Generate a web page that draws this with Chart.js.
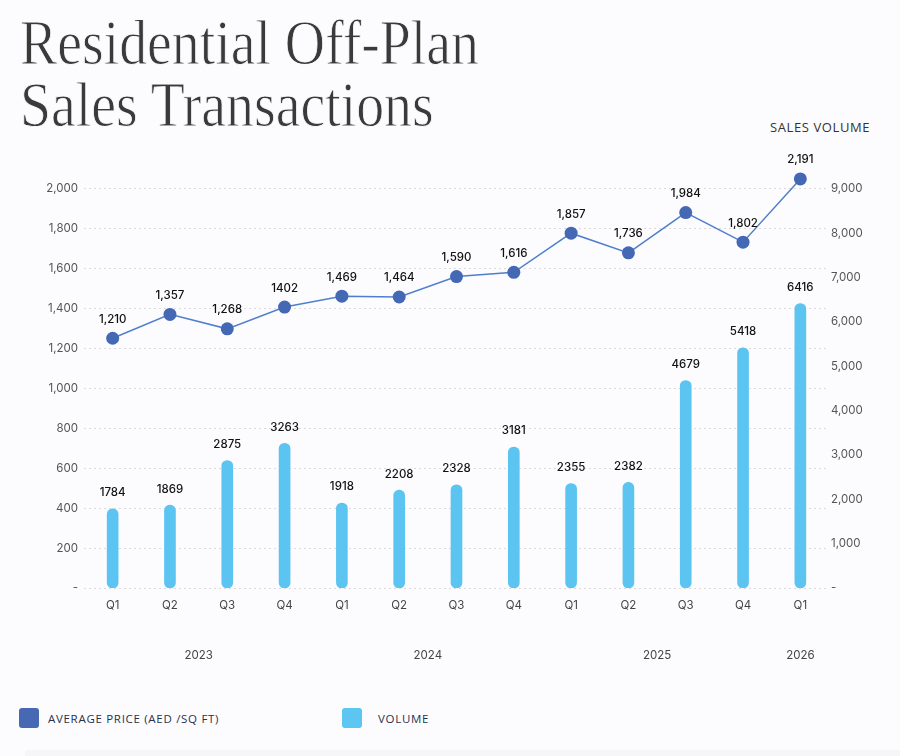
<!DOCTYPE html>
<html lang="en">
<head>
  <meta charset="UTF-8" />
  <title>Residential Off-Plan Sales Transactions</title>
  <script src="https://cdn.jsdelivr.net/npm/chart.js"></script>
  <style>
    html, body { margin: 0; padding: 0; }
    body {
      width: 900px; height: 756px; position: relative; overflow: hidden;
      background: #fcfcfe; font-family: 'Open Sans', sans-serif;
    }
    .titulo {
      position: absolute; left: 20px; top: 12px;
      font-family: 'Liberation Serif', serif; font-size: 64px; line-height: 62px;
      color: #3a3a3a; white-space: nowrap; transform-origin: left top;
      -webkit-text-stroke: 0.9px #fcfcfe;
    }
    .titulo span { display: inline-block; }
    .eixo-dir {
      position: absolute; left: 770px; top: 119px;
      font-size: 13px; line-height: 16px; letter-spacing: 0.6px; color: #333;
    }
    #grafico { position: absolute; left: 0; top: 150px; }
    .legenda { position: absolute; top: 708px; height: 20px; display: flex; align-items: center; }
    .legenda i { width: 20px; height: 20px; border-radius: 3px; display: block; }
    .legenda span {
      font-size: 11.5px; letter-spacing: 0.7px; color: #27314f; font-weight: 500;
    }
    .rodape { position: absolute; left: 25px; right: 0; top: 750px; bottom: 0; background: #f6f6f9; }
  </style>
</head>
<body>
  <div class="titulo" id="titulo"><span id="l1">Residential Off-Plan</span><br><span id="l2">Sales Transactions</span></div>
  <div class="eixo-dir">SALES VOLUME</div>

  <canvas id="grafico" width="900" height="518"></canvas>

  <div class="legenda" style="left:19px"><i style="background:#4769b3"></i><span style="margin-left:9px">AVERAGE PRICE (AED /SQ FT)</span></div>
  <div class="legenda" style="left:342px"><i style="background:#5cc5f1"></i><span style="margin-left:16px">VOLUME</span></div>
  <div class="rodape"></div>

  <script>
    // dados
    const quarters = ['Q1', 'Q2', 'Q3', 'Q4', 'Q1', 'Q2', 'Q3', 'Q4', 'Q1', 'Q2', 'Q3', 'Q4', 'Q1'];
    const years = ['2023', '2023', '2023', '2023', '2024', '2024', '2024', '2024', '2025', '2025', '2025', '2025', '2026'];
    const avgPrice = [1210, 1357, 1268, 1402, 1469, 1464, 1590, 1616, 1857, 1736, 1984, 1802, 2191];
    const avgPriceLabels = ['1,210', '1,357', '1,268', '1402', '1,469', '1,464', '1,590', '1,616', '1,857', '1,736', '1,984', '1,802', '2,191'];
    const volume = [1784, 1869, 2875, 3263, 1918, 2208, 2328, 3181, 2355, 2382, 4679, 5418, 6416];
    const priceTicks = [0, 200, 400, 600, 800, 1000, 1200, 1400, 1600, 1800, 2000];
    const volumeTicks = [0, 1000, 2000, 3000, 4000, 5000, 6000, 7000, 8000, 9000];

    // largura do titulo
    const t = document.getElementById('titulo');
    const w1 = document.getElementById('l1').getBoundingClientRect().width;
    t.style.transform = 'scaleX(' + (459 / w1) + ')';

    // centro de cada ano (media dos indices dos trimestres)
    const yearGroups = [];
    years.forEach((y, i) => {
      let g = yearGroups.find(g => g.year === y);
      if (!g) { g = { year: y, idx: [] }; yearGroups.push(g); }
      g.idx.push(i);
    });
    yearGroups.forEach(g => { g.center = g.idx.reduce((a, b) => a + b, 0) / g.idx.length; });

    const tickFont = { family: 'Inter', size: 11.5 };
    const fmt = v => v === 0 ? '-' : v.toLocaleString('en-US');

    const valueLabels = {
      id: 'valueLabels',
      afterDatasetsDraw(chart) {
        const ctx = chart.ctx;
        ctx.save();
        ctx.font = '500 11.5px Inter';
        ctx.fillStyle = '#111';
        ctx.textAlign = 'center';
        ctx.textBaseline = 'middle';
        chart.data.datasets.forEach((ds, i) => {
          const meta = chart.getDatasetMeta(i);
          const off = ds.type === 'line' ? 19 : 16;
          meta.data.forEach((el, j) => ctx.fillText(ds.valueText[j], el.x, el.y - off));
        });
        ctx.restore();
      }
    };

    const yearLabels = {
      id: 'yearLabels',
      afterDraw(chart) {
        const { ctx, chartArea } = chart;
        const x = chart.scales.x;
        ctx.save();
        ctx.font = '11.5px Inter';
        ctx.fillStyle = '#444';
        ctx.textAlign = 'center';
        ctx.textBaseline = 'middle';
        yearGroups.forEach(g => ctx.fillText(g.year, x.getPixelForValue(g.center), chartArea.bottom + 68));
        ctx.restore();
      }
    };

    new Chart(document.getElementById('grafico'), {
      data: {
        labels: quarters,
        datasets: [
          {
            type: 'line',
            label: 'AVERAGE PRICE (AED /SQ FT)',
            data: avgPrice,
            valueText: avgPriceLabels,
            yAxisID: 'yLine',
            borderColor: '#4f7fcc',
            borderWidth: 1.5,
            pointRadius: 6.5,
            pointBackgroundColor: '#4468b4',
            pointBorderColor: '#4468b4',
            pointBorderWidth: 0,
            tension: 0,
            clip: false,
            order: 0
          },
          {
            type: 'bar',
            label: 'VOLUME',
            data: volume,
            valueText: volume.map(String),
            yAxisID: 'yVol',
            backgroundColor: '#5cc4f0',
            barThickness: 11,
            borderRadius: 6,
            borderSkipped: false,
            order: 1
          }
        ]
      },
      options: {
        responsive: false,
        animation: false,
        // area do grafico de 165 a 588 (pagina); 2,000 e 9,000 ficam em 189
        layout: { padding: { top: 15, left: 0, right: 0, bottom: 0 } },
        plugins: { legend: { display: false }, tooltip: { enabled: false } },
        scales: {
          x: {
            grid: { display: false, drawTicks: false },
            border: { display: false },
            ticks: { color: '#444', font: tickFont, padding: 11 },
            afterFit: s => { s.height = 80; }
          },
          y: {
            position: 'left',
            min: 0, max: 2120,
            afterBuildTicks: s => { s.ticks = priceTicks.map(v => ({ value: v })); },
            ticks: { color: '#555', font: tickFont, padding: 6, callback: fmt },
            grid: { color: '#dadade', drawTicks: false },
            border: { display: false, dash: [2, 3] },
            afterFit: s => { s.width = 84; }
          },
          yVol: {
            position: 'right',
            min: 0, max: 9541,
            afterBuildTicks: s => { s.ticks = volumeTicks.map(v => ({ value: v })); },
            ticks: { color: '#555', font: tickFont, padding: 2, callback: fmt },
            grid: { display: false, drawTicks: false },
            border: { display: false },
            afterFit: s => { s.width = 71; }
          },
          yLine: {
            display: false,
            min: -328, max: 2277
          }
        }
      },
      plugins: [valueLabels, yearLabels]
    });
  </script>
</body>
</html>
